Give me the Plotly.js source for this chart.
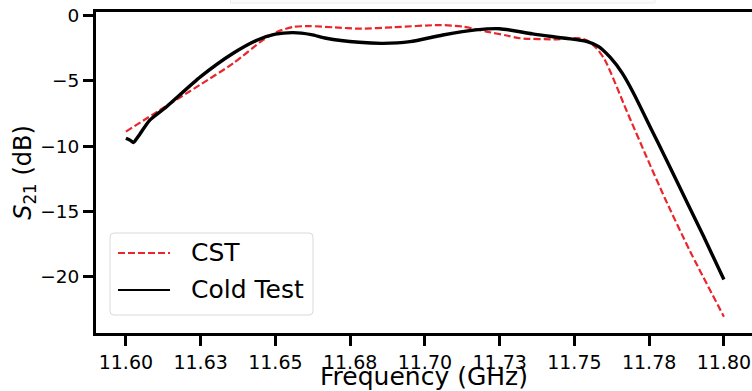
<!DOCTYPE html>
<html>
<head>
<meta charset="utf-8">
<script src="https://cdn.plot.ly/plotly-3.0.1.min.js"></script>
<style>html,body{margin:0;padding:0;background:#fff;}#chart{width:752px;height:391px;}</style>
</head>
<body>
<div id="chart"></div>
<script>
// CST simulation (red dashed)
const cstFreq = [11.600, 11.6114, 11.6247, 11.6359, 11.6459, 11.651, 11.656, 11.6615, 11.670, 11.678, 11.6894, 11.705, 11.7128, 11.7206, 11.7273, 11.7318, 11.744, 11.7518, 11.755, 11.7574, 11.7602, 11.7675, 11.7741, 11.7803, 11.7886, 11.800];
const cstS21 = [-8.88, -7.22, -5.31, -3.65, -1.86, -1.20, -0.86, -0.80, -0.90, -1.00, -0.89, -0.72, -0.84, -1.22, -1.52, -1.73, -1.81, -1.73, -2.00, -2.50, -3.39, -7.30, -10.80, -14.00, -18.00, -23.05];

// Cold test measurement (black solid)
const coldFreq = [11.600, 11.6015, 11.6025, 11.6035, 11.6045, 11.608, 11.6136, 11.625, 11.636, 11.644, 11.650, 11.656, 11.662, 11.667, 11.678, 11.686, 11.695, 11.706, 11.717, 11.725, 11.736, 11.747, 11.754, 11.758, 11.762, 11.766, 11.7697, 11.7753, 11.7808, 11.7864, 11.7932, 11.800];
const coldS21 = [-9.39, -9.55, -9.72, -9.45, -9.13, -8.00, -6.97, -4.67, -2.86, -1.86, -1.42, -1.30, -1.45, -1.73, -2.04, -2.12, -1.99, -1.48, -1.09, -1.00, -1.40, -1.73, -1.97, -2.35, -3.20, -4.40, -5.90, -8.50, -11.05, -13.70, -16.90, -20.20];

const xTickVals = [11.600, 11.625, 11.650, 11.675, 11.700, 11.725, 11.750, 11.775, 11.800];
const xTickText = ["11.60", "11.63", "11.65", "11.68", "11.70", "11.73", "11.75", "11.78", "11.80"];
const yTickVals = [0, -5, -10, -15, -20];
const yTickText = ["0", "\u22125", "\u221210", "\u221215", "\u221220"];
const seriesNames = ["CST", "Cold Test"];
const seriesColors = ["#e8262b", "#000000"];

const font = "DejaVu Sans, Liberation Sans, sans-serif";

const traces = [
  {x: cstFreq, y: cstS21, mode: "lines", name: seriesNames[0], showlegend: false,
   line: {color: seriesColors[0], width: 2.2, dash: "7px,3px", shape: "spline", smoothing: 0.7}},
  {x: coldFreq, y: coldS21, mode: "lines", name: seriesNames[1], showlegend: false,
   line: {color: seriesColors[1], width: 3.4, shape: "spline", smoothing: 0.7}}
];

// custom legend geometry (paper coordinates)
const W = 656, H = 321;
const px = v => (v - 96) / W;
const py = v => (333 - v) / H;
const bx0 = px(110), bx1 = px(313), by0 = py(315), by1 = py(233);
const rx = 4 / W, ry = 4 / H;
const boxPath = `M ${bx0+rx},${by0} L ${bx1-rx},${by0} Q ${bx1},${by0} ${bx1},${by0+ry} L ${bx1},${by1-ry} Q ${bx1},${by1} ${bx1-rx},${by1} L ${bx0+rx},${by1} Q ${bx0},${by1} ${bx0},${by1-ry} L ${bx0},${by0+ry} Q ${bx0},${by0} ${bx0+rx},${by0} Z`;
const rowsY = [253, 290];

const layout = {
  width: 752, height: 391,
  margin: {l: 96, r: 0, t: 12, b: 58, pad: 0},
  paper_bgcolor: "#ffffff", plot_bgcolor: "#ffffff",
  font: {family: font, color: "#000", size: 18},
  showlegend: false,
  xaxis: {
    range: [11.59, 11.8094], autorange: false,
    tickmode: "array", tickvals: xTickVals, ticktext: xTickText,
    ticks: "outside", ticklen: 10, tickwidth: 3, tickcolor: "#000",
    showline: true, linewidth: 3, linecolor: "#000", mirror: true,
    showgrid: false, zeroline: false,
    tickfont: {family: font, size: 19, color: "#000"},
    title: {text: "Frequency (GHz)", font: {family: font, size: 25, color: "#000"}, standoff: 3},
    automargin: false
  },
  yaxis: {
    range: [-24.3, 0.28], autorange: false,
    tickmode: "array", tickvals: yTickVals, ticktext: yTickText,
    ticks: "outside", ticklen: 10, tickwidth: 3, tickcolor: "#000",
    showline: true, linewidth: 3, linecolor: "#000", mirror: false,
    showgrid: false, zeroline: false,
    tickfont: {family: font, size: 18.5, color: "#000"},
    title: {text: "<i>S</i><sub>21</sub> (dB)", font: {family: font, size: 24, color: "#000"}, standoff: 0},
    automargin: false
  },
  shapes: [
    {type: "rect", xref: "paper", yref: "paper", x0: 0.205, x1: 0.852, y0: 1.028, y1: 1.06,
     line: {color: "#ececec", width: 1}, fillcolor: "#fbfbfb", layer: "below"},
    {type: "path", xref: "paper", yref: "paper", path: boxPath,
     line: {color: "#d9d9d9", width: 1}, fillcolor: "rgba(255,255,255,0.8)", layer: "above"},
    {type: "line", xref: "paper", yref: "paper", x0: px(118), x1: px(170), y0: py(rowsY[0]), y1: py(rowsY[0]),
     line: {color: seriesColors[0], width: 2.2, dash: "7px,3px"}, layer: "above"},
    {type: "line", xref: "paper", yref: "paper", x0: px(118), x1: px(170), y0: py(rowsY[1]), y1: py(rowsY[1]),
     line: {color: seriesColors[1], width: 2.2}, layer: "above"}
  ],
  annotations: [
    {xref: "paper", yref: "paper", x: px(189), y: py(rowsY[0] - 1), xanchor: "left", yanchor: "middle",
     text: seriesNames[0], showarrow: false, font: {family: font, size: 25, color: "#000"}},
    {xref: "paper", yref: "paper", x: px(189), y: py(rowsY[1] - 1), xanchor: "left", yanchor: "middle",
     text: seriesNames[1], showarrow: false, font: {family: font, size: 25, color: "#000"}}
  ]
};

Plotly.newPlot("chart", traces, layout, {displayModeBar: false, staticPlot: true});
</script>
</body>
</html>
